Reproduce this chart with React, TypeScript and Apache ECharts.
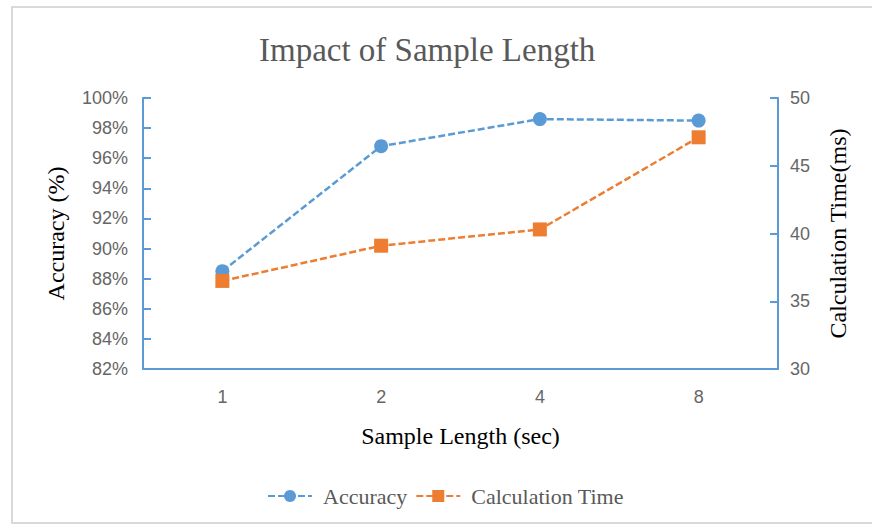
import React, { useEffect, useRef } from "react";
import * as echarts from "echarts";

const sampleLengths = ["1", "2", "4", "8"];
const accuracy = [88.5, 96.8, 98.6, 98.5];
const calcTime = [36.5, 39.1, 40.3, 47.1];

const AXIS_BLUE = "#5b9bd5";
const BLUE = "#5b9bd5";
const ORANGE = "#ed7d31";
const SERIF = "'Liberation Serif', 'Times New Roman', serif";
const SANS = "'Liberation Sans', Arial, sans-serif";

export default function App() {
  const ref = useRef<HTMLDivElement>(null);

  useEffect(() => {
    if (!ref.current) return;
    const chart = echarts.init(ref.current, undefined, { renderer: "svg" });
    chart.setOption({
      animation: false,
      backgroundColor: "#ffffff",
      graphic: [
        {
          type: "rect",
          shape: { x: 12, y: 7, width: 900, height: 516 },
          style: { fill: "none", stroke: "#d9d9d9", lineWidth: 2 },
          silent: true,
        },
      ],
      title: {
        text: "Impact of Sample Length",
        left: 254,
        top: 28,
        textStyle: {
          fontFamily: SERIF,
          fontSize: 33,
          fontWeight: "normal",
          color: "#595959",
        },
      },
      legend: {
        top: 480,
        left: 262,
        itemWidth: 44,
        itemHeight: 15,
        itemGap: 8,
        textStyle: {
          fontFamily: SERIF,
          fontSize: 22,
          color: "#595959",
          padding: [0, 0, 0, 6],
        },
        data: ["Accuracy", "Calculation Time"],
      },
      grid: { left: 143, right: 94, top: 98, bottom: 159 },
      xAxis: {
        type: "category",
        data: sampleLengths,
        name: "Sample Length (sec)",
        nameLocation: "middle",
        nameGap: 55,
        nameTextStyle: { fontFamily: SERIF, fontSize: 24, color: "#000" },
        axisLine: { lineStyle: { color: AXIS_BLUE, width: 2 } },
        axisTick: { inside: true, length: 7, lineStyle: { color: AXIS_BLUE, width: 2 } },
        axisLabel: { fontFamily: SANS, fontSize: 18, color: "#666", margin: 19 },
      },
      yAxis: [
        {
          type: "value",
          min: 82,
          max: 100,
          interval: 2,
          name: "Accuracy (%)",
          nameLocation: "middle",
          nameGap: 75,
          nameTextStyle: { fontFamily: SERIF, fontSize: 24, color: "#000" },
          axisLine: { show: true, lineStyle: { color: AXIS_BLUE, width: 2 } },
          axisTick: { show: true, inside: true, length: 8, lineStyle: { color: AXIS_BLUE, width: 2 } },
          axisLabel: { fontFamily: SANS, fontSize: 18, color: "#666", margin: 15, formatter: "{value}%" },
          splitLine: { show: false },
        },
        {
          type: "value",
          min: 30,
          max: 50,
          interval: 5,
          name: "Calculation Time(ms)",
          nameLocation: "middle",
          nameGap: 48,
          nameRotate: 90,
          nameTextStyle: { fontFamily: SERIF, fontSize: 24, color: "#000" },
          axisLine: { show: true, lineStyle: { color: AXIS_BLUE, width: 2 } },
          axisTick: { show: true, inside: true, length: 8, lineStyle: { color: AXIS_BLUE, width: 2 } },
          axisLabel: { fontFamily: SANS, fontSize: 18, color: "#666", margin: 12 },
          splitLine: { show: false },
        },
      ],
      series: [
        {
          name: "Accuracy",
          type: "line",
          yAxisIndex: 0,
          data: accuracy,
          symbol: "circle",
          symbolSize: 14,
          itemStyle: { color: BLUE },
          lineStyle: { color: BLUE, width: 2.5, type: [7, 3] },
          z: 3,
        },
        {
          name: "Calculation Time",
          type: "line",
          yAxisIndex: 1,
          data: calcTime,
          symbol: "rect",
          symbolSize: 14,
          itemStyle: { color: ORANGE },
          lineStyle: { color: ORANGE, width: 2.5, type: [7, 3] },
          z: 4,
        },
      ],
    });
    return () => chart.dispose();
  }, []);

  return (
    <div
      ref={ref}
      style={{ position: "fixed", left: 0, top: 0, width: 872, height: 528 }}
    />
  );
}
